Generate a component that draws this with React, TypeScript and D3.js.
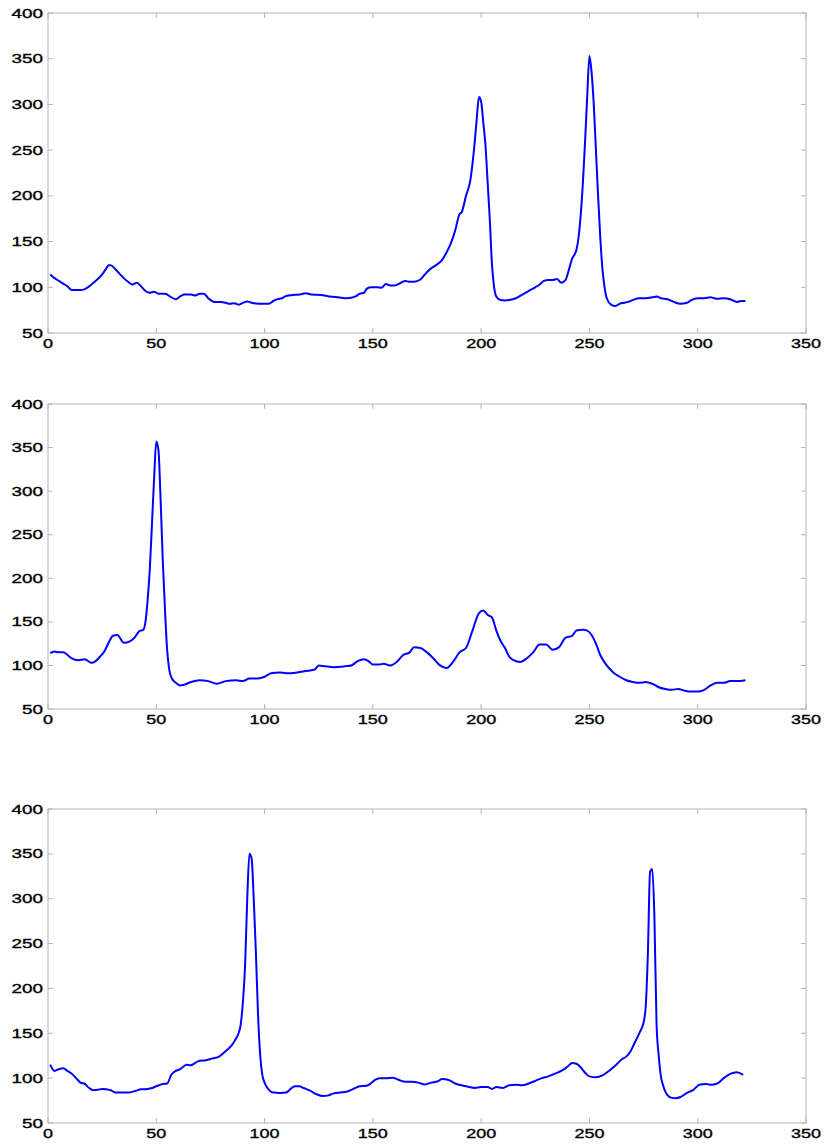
import React from "react";
import * as d3 from "d3";

const xTicks = [0, 50, 100, 150, 200, 250, 300, 350];
const yTicks = [50, 100, 150, 200, 250, 300, 350, 400];

const series1: [number, number][] = [
  [1,114],[3,110],[5,107],[7,104],[9,101],[11,97],[13,97],[15,97],[17,98],[19,101],[21,105],[23,109],[25,114],[27,121],[28,124],[29,124],[31,120],[33,115],[35,110],[37,106],[39,103],[41,105],[43,101],[45,96],[47,94],[49,95],[51,93],[54,93],[57,89],[59,87],[61,90],[63,92],[66,92],[68,91],[70,93],[72,93],[74,88],[77,84],[80,84],[82,83],[84,82],[86,82.5],[88,81],[90,83],[92,84.5],[94,83],[97,82],[100,82],[102,82],[104,85],[106,87],[108,88],[110,90.5],[113,91.5],[116,92],[119,93.5],[122,92],[126,91.5],[130,90],[134,89],[138,88],[140,88.5],[142,90],[144,93],[146,94],[147,98],[149,100],[152,100],[154,99.5],[156,103.5],[158,102],[160,102],[163,105],[165,107],[167,106],[169,106],[172,108.5],[174,114],[176,119],[179,124],[182,130],[184,138],[186,148],[188,162],[190,180],[191,182],[193,200],[195,217],[196,235],[197,258],[198,285],[199,308],[200,303],[201,280],[202,255],[203,215],[204,174],[205,125],[206,100],[207,90],[209,86],[211,85.5],[213,86],[216,88],[219,92],[222,96],[225,100],[227,103],[229,107],[231,108],[233,108],[235,109],[237,105],[239,108],[240,115],[242,131],[244,141],[245,155],[246,180],[247,215],[248,260],[249,310],[250,353],[251,335],[252,300],[253,250],[254,200],[255,155],[256,120],[257,100],[258,88],[260,81],[262,79.5],[264,82],[266,83],[268,84],[270,86],[273,88],[276,88],[279,89],[281,90],[283,88],[286,87],[289,84],[292,82],[295,83],[297,86],[300,88],[303,88],[306,89],[307,88.5],[309,87.5],[312,88],[315,87],[318,84],[320,85],[322,85]
];

const series2: [number, number][] = [
  [1,114],[3,116],[5,115],[7,115],[9,112],[11,108],[14,106],[17,107],[20,103],[22,105],[24,110],[26,116],[28,126],[30,134],[32,135],[35,126],[38,128],[40,132],[42,139],[44,141],[45,150],[46,175],[47,210],[48,262],[49,315],[50,357],[51,347],[52,290],[53,220],[54,165],[55,118],[56,95],[57,86],[59,80],[61,77],[63,78],[66,81],[70,83],[74,82],[78,79],[82,82],[87,83],[90,82],[93,85],[97,85],[100,87],[103,91],[107,92],[110,91],[115,92],[120,94],[123,95],[125,100],[128,99],[132,98],[137,99],[140,100],[143,105],[146,107],[148,105],[150,101],[153,101],[155,102],[158,100],[161,104],[164,112],[167,115],[169,121],[172,120],[175,115],[178,108],[181,100],[184,97],[187,104],[190,115],[193,120],[196,140],[199,160],[201,163],[203,158],[205,155],[207,140],[209,128],[211,120],[213,110],[215,106],[218,104],[221,108],[224,115],[227,124],[230,124],[233,118],[236,121],[239,132],[242,134],[244,140],[247,141],[249,140],[251,135],[253,125],[255,112],[258,100],[261,92],[264,87],[267,83],[270,81],[273,80],[276,81],[279,79],[282,75],[285,73],[288,72],[291,73],[294,71],[297,70],[300,70],[303,72],[306,77],[309,80],[312,80],[315,82],[318,82],[322,83]
];

const series3: [number, number][] = [
  [1,115],[3,108],[5,110],[7,111],[9,108],[11,105],[13,100],[15,95],[17,93.5],[19,89],[21,86.5],[23,87],[25,88],[27,87.5],[29,86.5],[31,84],[34,84],[37,84],[40,85.5],[43,87.5],[46,88],[48,89],[50,91],[53,93.5],[55,94],[57,104],[59,108],[61,110],[64,115],[66,114.5],[68,117],[70,119.5],[73,120],[76,122],[79,124],[82,130],[85,137],[87,145],[88,150],[89,160],[90,185],[91,225],[92,300],[93,350],[94,345],[95,300],[96,240],[97,170],[98,125],[99,103],[100,95],[102,87],[104,84],[107,83.5],[110,84],[112,88],[114,91],[116,91],[118,89],[121,86],[124,82],[127,80],[129,80.5],[132,83],[135,84],[138,85],[141,88],[144,91],[147,91.5],[149,94],[151,98],[153,100],[156,100],[159,100.5],[162,98],[165,96],[168,96],[171,95],[174,93],[177,95],[180,96.5],[182,99],[185,98],[188,94],[191,92],[194,90.5],[197,89],[200,90],[203,90],[205,88],[207,90],[210,89],[213,92],[216,92.5],[219,92],[222,94],[225,97],[228,100],[231,102],[234,105],[237,108],[240,113],[242,117],[244,116],[246,112],[248,106],[250,102],[253,101],[256,103],[259,108],[262,114],[265,121],[267,124],[269,130],[271,140],[273,150],[275,162],[276,180],[277,240],[278,330],[279,333],[280,280],[281,160],[282,125],[283,102],[284,92],[286,81],[288,78],[290,77.7],[292,79],[295,83.5],[298,87],[301,93],[304,93.6],[306,92.5],[309,94],[312,100],[315,104.7],[318,106.5],[321,103.7]
];

const allSeries = [series1, series2, series3];

const W = 828;
const H = 1145;
const X0 = 48;
const X1 = 806;
const panels: [number, number][] = [
  [13, 333],
  [404, 709],
  [809, 1123],
];

const frameColor = "#b4b4b4";
const lineColor = "#0000ff";
const fontFamily = "'Liberation Sans', Arial, sans-serif";

function Panel({ data, top, bottom }: { data: [number, number][]; top: number; bottom: number }) {
  const x = d3.scaleLinear().domain([0, 350]).range([X0, X1]);
  const y = d3.scaleLinear().domain([50, 400]).range([bottom, top]);
  const line = d3
    .line<[number, number]>()
    .x((d) => x(d[0]))
    .y((d) => y(d[1]))
    .curve(d3.curveMonotoneX);
  const tl = 5;
  return (
    <g>
      <rect x={X0} y={top} width={X1 - X0} height={bottom - top} fill="none" stroke={frameColor} strokeWidth={1} />
      {xTicks.map((t) => (
        <g key={"x" + t}>
          <line x1={x(t)} x2={x(t)} y1={bottom} y2={bottom - tl} stroke={frameColor} />
          <line x1={x(t)} x2={x(t)} y1={top} y2={top + tl} stroke={frameColor} />
          <text
            x={x(t)}
            y={bottom + 10}
            textAnchor="middle"
            dominantBaseline="central"
            fontSize={13}
            fontFamily={fontFamily}
            textLength={String(t).length * 10}
            lengthAdjust="spacingAndGlyphs"
            fill="#000"
            stroke="#000"
            strokeWidth={0.35}
          >
            {t}
          </text>
        </g>
      ))}
      {yTicks.map((t) => (
        <g key={"y" + t}>
          <line x1={X0} x2={X0 + tl} y1={y(t)} y2={y(t)} stroke={frameColor} />
          <line x1={X1} x2={X1 - tl} y1={y(t)} y2={y(t)} stroke={frameColor} />
          <text
            x={43}
            y={y(t)}
            textAnchor="end"
            dominantBaseline="central"
            fontSize={13}
            fontFamily={fontFamily}
            textLength={String(t).length * 10.5}
            lengthAdjust="spacingAndGlyphs"
            fill="#000"
            stroke="#000"
            strokeWidth={0.35}
          >
            {t}
          </text>
        </g>
      ))}
      <path d={line(data) || ""} fill="none" stroke={lineColor} strokeWidth={2} strokeLinejoin="round" />
    </g>
  );
}

export default function App() {
  return (
    <svg
      width={W}
      height={H}
      style={{ position: "absolute", left: 0, top: 0, background: "#fff" }}
    >
      <rect width={W} height={H} fill="#fff" />
      {allSeries.map((s, i) => (
        <Panel key={i} data={s} top={panels[i][0]} bottom={panels[i][1]} />
      ))}
    </svg>
  );
}
